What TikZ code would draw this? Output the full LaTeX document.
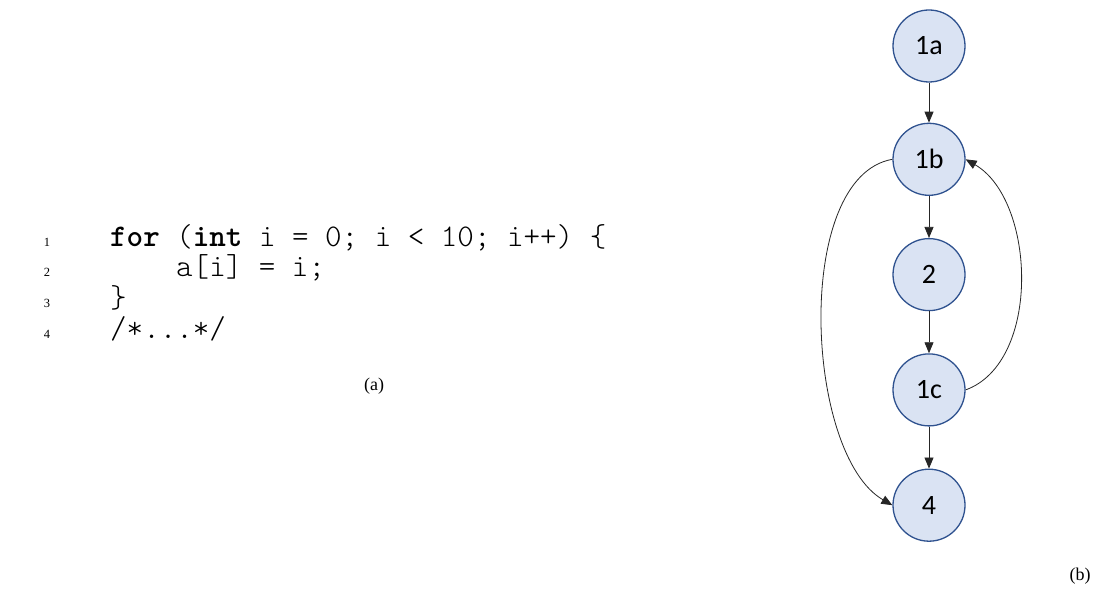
\documentclass[tikz,border=0pt]{standalone}
\usepackage{fontspec}
\setmainfont{Liberation Serif}
\setmonofont{Latin Modern Mono Light}
\newfontfamily\statefont{Carlito}
\usetikzlibrary{positioning,arrows.meta}
\definecolor{stateC}{HTML}{DAE3F3}
\definecolor{stateB}{HTML}{2F528F}
\definecolor{edgeC}{HTML}{262626}
\newcommand{\kw}[1]{\textbf{#1}}
\tikzset{
  state/.style={circle, draw=stateB, fill=stateC, line width=1.3pt, minimum size=72pt,
                inner sep=0pt, font=\statefont\fontsize{28}{32}\selectfont},
  flow/.style={-{Triangle[length=11pt,width=9pt]}, draw=edgeC, line width=0.8pt},
  lineno/.style={font=\fontsize{12.5}{14}\selectfont, anchor=base, inner sep=0pt},
  codeline/.style={font=\ttfamily\fontsize{31.5}{31}\selectfont, anchor=base west, inner sep=0pt},
  caption/.style={font=\fontsize{18}{20}\selectfont, inner sep=0pt},
}
\begin{document}
\begin{tikzpicture}[x=1pt, y=1pt]
\useasboundingbox (0,0) rectangle (1100,590);
% listing
\node[lineno] (num1) at (47,344) {1};
\node[lineno] (num2) at (47,313) {2};
\node[lineno] (num3) at (47,283) {3};
\node[lineno] (num4) at (47,252) {4};
\node[codeline] (code1) at (110,344) {\kw{for} (\kw{int} i = 0; i < 10; i++) \{};
\node[codeline] (code2) at (176,313) {a[i] = i;};
\node[codeline] (code3) at (110,283) {\}};
\node[codeline] (code4) at (110,252) {/*...*/};
\node[caption] (capa) at (374,204) {(a)};
% flow graph
\node[state] (s1a) at (929,544) {1a};
\node[state, below=40pt of s1a] (s1b) {1b};
\node[state, below=42pt of s1b] (s2) {2};
\node[state, below=42pt of s2] (s1c) {1c};
\node[state, below=42pt of s1c] (s4) {4};
\draw[flow] (s1a) -- (s1b);
\draw[flow] (s1b) -- (s2);
\draw[flow] (s2) -- (s1c);
\draw[flow] (s1c) -- (s4);
\draw[flow] (s1b.west) to[out=190, in=150, looseness=0.75] (s4.west);
\draw[flow] (s1c.east) to[out=20, in=-30, looseness=0.9] (s1b.east);
\node[caption] (capb) at (1080,14) {(b)};
\end{tikzpicture}
\end{document}
